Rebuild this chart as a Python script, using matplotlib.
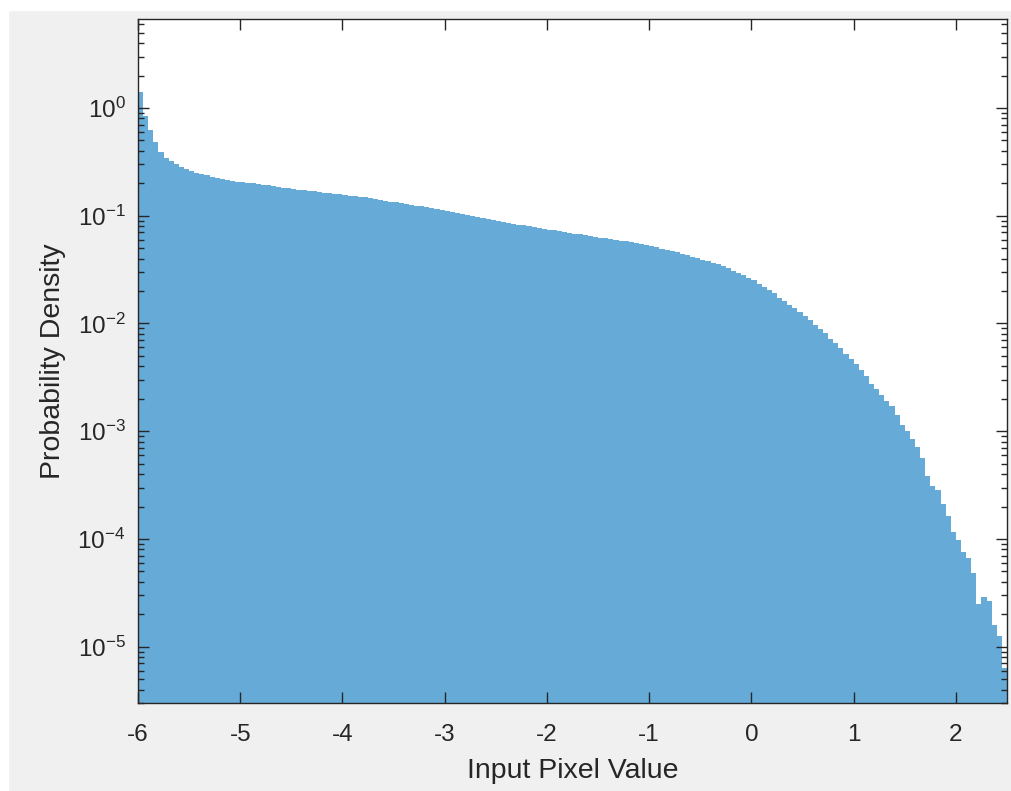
import numpy as np
import matplotlib
matplotlib.use('Agg')
import matplotlib.pyplot as plt
from matplotlib.ticker import LogLocator, FixedLocator, NullFormatter
from matplotlib.patches import Rectangle

plt.rcParams['font.family'] = ['Liberation Sans', 'DejaVu Sans']
plt.rcParams['mathtext.fontset'] = 'custom'
plt.rcParams['mathtext.rm'] = 'Liberation Sans'
plt.rcParams['axes.unicode_minus'] = False

# histogram range and bin densities (bin width 0.05)
x_lo, x_hi = -6.0, 2.5
density = [
    1.40, 0.85, 0.63, 0.48, 0.39, 0.347, 0.320, 0.299, 0.282, 0.269,
    0.260, 0.251, 0.244, 0.237, 0.229, 0.224, 0.219, 0.214, 0.210, 0.207,
    0.205, 0.202, 0.200, 0.197, 0.194, 0.191, 0.187, 0.185, 0.182, 0.179,
    0.176, 0.174, 0.172, 0.170, 0.168, 0.166, 0.164, 0.162, 0.160, 0.158,
    0.156, 0.154, 0.152, 0.150, 0.148, 0.146, 0.143, 0.140, 0.138, 0.135,
    0.133, 0.130, 0.128, 0.126, 0.124, 0.122, 0.120, 0.118, 0.115, 0.113,
    0.111, 0.108, 0.106, 0.104, 0.102, 0.0998, 0.0977, 0.0957, 0.0938, 0.0918,
    0.0899, 0.0881, 0.0863, 0.0845, 0.0828, 0.0813, 0.0800, 0.0785, 0.0771, 0.0759,
    0.0745, 0.0731, 0.0719, 0.0706, 0.0693, 0.0682, 0.0670, 0.0658, 0.0647, 0.0637,
    0.0625, 0.0615, 0.0605, 0.0596, 0.0586, 0.0577, 0.0568, 0.0558, 0.0547, 0.0535,
    0.0521, 0.0508, 0.0495, 0.0482, 0.0469, 0.0456, 0.0443, 0.0429, 0.0415, 0.0402,
    0.0389, 0.0377, 0.0365, 0.0353, 0.0339, 0.0324, 0.0309, 0.0292, 0.0279, 0.0266,
    0.0251, 0.0234, 0.0219, 0.0204, 0.0191, 0.0174, 0.0162, 0.0148, 0.0138, 0.0129,
    0.0117, 0.0107, 0.00977, 0.00891, 0.00813, 0.00724, 0.00661, 0.00589, 0.00525, 0.00468,
    0.00417, 0.00372, 0.00324, 0.00275, 0.00245, 0.00219, 0.00191, 0.00170, 0.00141, 0.00115,
    0.00100, 0.000851, 0.000708, 0.000562, 0.000380, 0.000309, 0.000282, 0.000209, 0.000162, 0.000117,
    9.77e-5, 7.59e-5, 6.61e-5, 4.79e-5, 2.51e-5, 2.88e-5, 2.63e-5, 1.58e-5, 1.26e-5, 6.3e-6,
]
xticks = [-6, -5, -4, -3, -2, -1, 0, 1, 2]
yticks = [1e-5, 1e-4, 1e-3, 1e-2, 1e-1, 1e0]
ylims = (3.0e-6, 6.7)

edges = np.linspace(x_lo, x_hi, len(density) + 1)

axcol = '#262626'
fig = plt.figure(figsize=(10.12, 7.91), dpi=100, facecolor='#f0f0f0')
# white strips at the left and top edge of the screenshot
fig.patches.append(Rectangle((0, 0), 8/1012, 1, transform=fig.transFigure, color='white', zorder=0))
fig.patches.append(Rectangle((0, 1 - 10/791), 1, 10/791, transform=fig.transFigure, color='white', zorder=0))

ax = fig.add_axes([138/1012, 88/791, 869/1012, 684/791])
ax.stairs(density, edges, fill=True, baseline=1e-9, color='#66aad7', linewidth=0)

ax.set_yscale('log')
ax.set_xlim(x_lo, x_hi)
ax.set_ylim(*ylims)
ax.xaxis.set_major_locator(FixedLocator(xticks))
ax.yaxis.set_major_locator(FixedLocator(yticks))
ax.yaxis.set_minor_locator(LogLocator(base=10, subs=np.arange(2, 10), numticks=20))
ax.yaxis.set_minor_formatter(NullFormatter())

ax.tick_params(which='both', direction='in', top=True, right=True, colors=axcol,
               labelcolor=axcol, labelsize=17.5, width=1.0)
ax.tick_params(which='major', length=8)
ax.tick_params(which='minor', length=4.5)
ax.tick_params(axis='x', pad=15)
ax.tick_params(axis='y', pad=9)
for sp in ax.spines.values():
    sp.set_color(axcol)
    sp.set_linewidth(1.0)

ax.set_xlabel('Input Pixel Value', fontsize=20.5, color=axcol, labelpad=9)
ax.set_ylabel('Probability Density', fontsize=20.5, color=axcol, labelpad=8)

plt.savefig('out.png', dpi=100, facecolor=fig.get_facecolor())
